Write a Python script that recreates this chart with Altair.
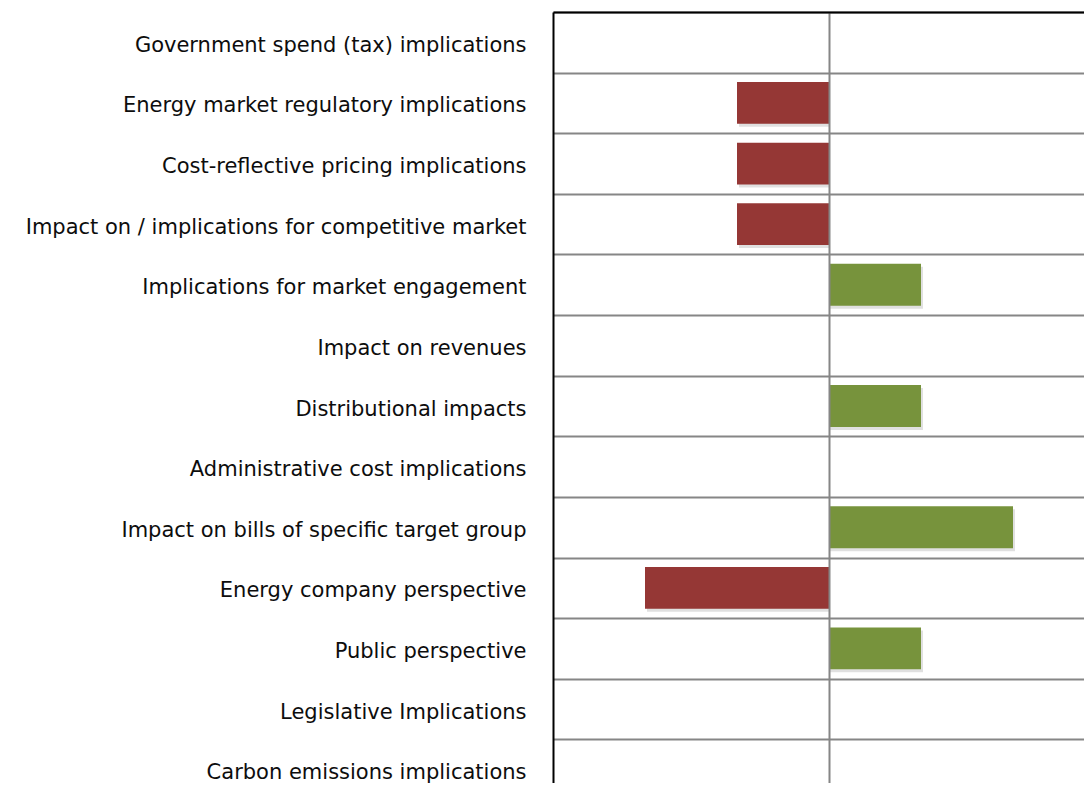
import altair as alt
import pandas as pd

categories = [
    "Government spend (tax) implications",
    "Energy market regulatory implications",
    "Cost-reflective pricing implications",
    "Impact on / implications for competitive market",
    "Implications for market engagement",
    "Impact on revenues",
    "Distributional impacts",
    "Administrative cost implications",
    "Impact on bills of specific target group",
    "Energy company perspective",
    "Public perspective",
    "Legislative Implications",
    "Carbon emissions implications",
]
values = [0, -1, -1, -1, 1, 0, 1, 0, 2, -2, 1, 0, 0]

df = pd.DataFrame({"category": categories, "value": values})
df["sign"] = ["neg" if v < 0 else "pos" for v in values]

W, H = 531, 771
xscale = alt.Scale(domain=[-3, 3], range=[0, 552], nice=False, zero=False)
yscale = alt.Scale(domain=categories, range=[0, 788], paddingInner=0, paddingOuter=0)

xaxis = alt.Axis(
    orient="top", values=[0], labels=False, ticks=False, title=None,
    domain=True, domainColor="#000000", domainWidth=2,
    grid=True, gridColor="#868686", gridWidth=2, zindex=1,
)
yaxis = alt.Axis(
    title=None, ticks=False, domain=True, domainColor="#000000", domainWidth=2,
    grid=True, gridColor="#868686", gridWidth=2, tickBand="extent",
    labelFont="DejaVu Sans", labelFontSize=21, labelColor="#0d0d0d",
    labelPadding=27, labelLimit=0, labelOffset=3, zindex=0,
)

base = alt.Chart(df)

axes = base.mark_point(opacity=0).encode(
    x=alt.X("value:Q", scale=xscale, axis=xaxis),
    y=alt.Y("category:N", scale=yscale, axis=yaxis, sort=categories),
)

shadow = base.transform_filter("datum.value != 0").mark_bar(
    height={"band": 0.69}, color="#000000", opacity=0.12, xOffset=2, yOffset=3
).encode(
    x=alt.X("value:Q", scale=xscale, axis=xaxis),
    x2=alt.datum(0),
    y=alt.Y("category:N", scale=yscale, axis=yaxis, sort=categories),
)

bars = base.transform_filter("datum.value != 0").mark_bar(height={"band": 0.69}).encode(
    x=alt.X("value:Q", scale=xscale, axis=xaxis),
    x2=alt.datum(0),
    y=alt.Y("category:N", scale=yscale, axis=yaxis, sort=categories),
    color=alt.Color(
        "sign:N",
        scale=alt.Scale(domain=["neg", "pos"], range=["#953735", "#77933C"]),
        legend=None,
    ),
)

chart = alt.layer(axes, shadow, bars).properties(
    width=W,
    height=H,
    autosize=alt.AutoSizeParams(type="none"),
    padding={"left": 545, "top": 4, "right": 0, "bottom": 0},
).configure_view(stroke=None)

chart.save("out.html", embed_options={"renderer": "svg", "actions": False})
